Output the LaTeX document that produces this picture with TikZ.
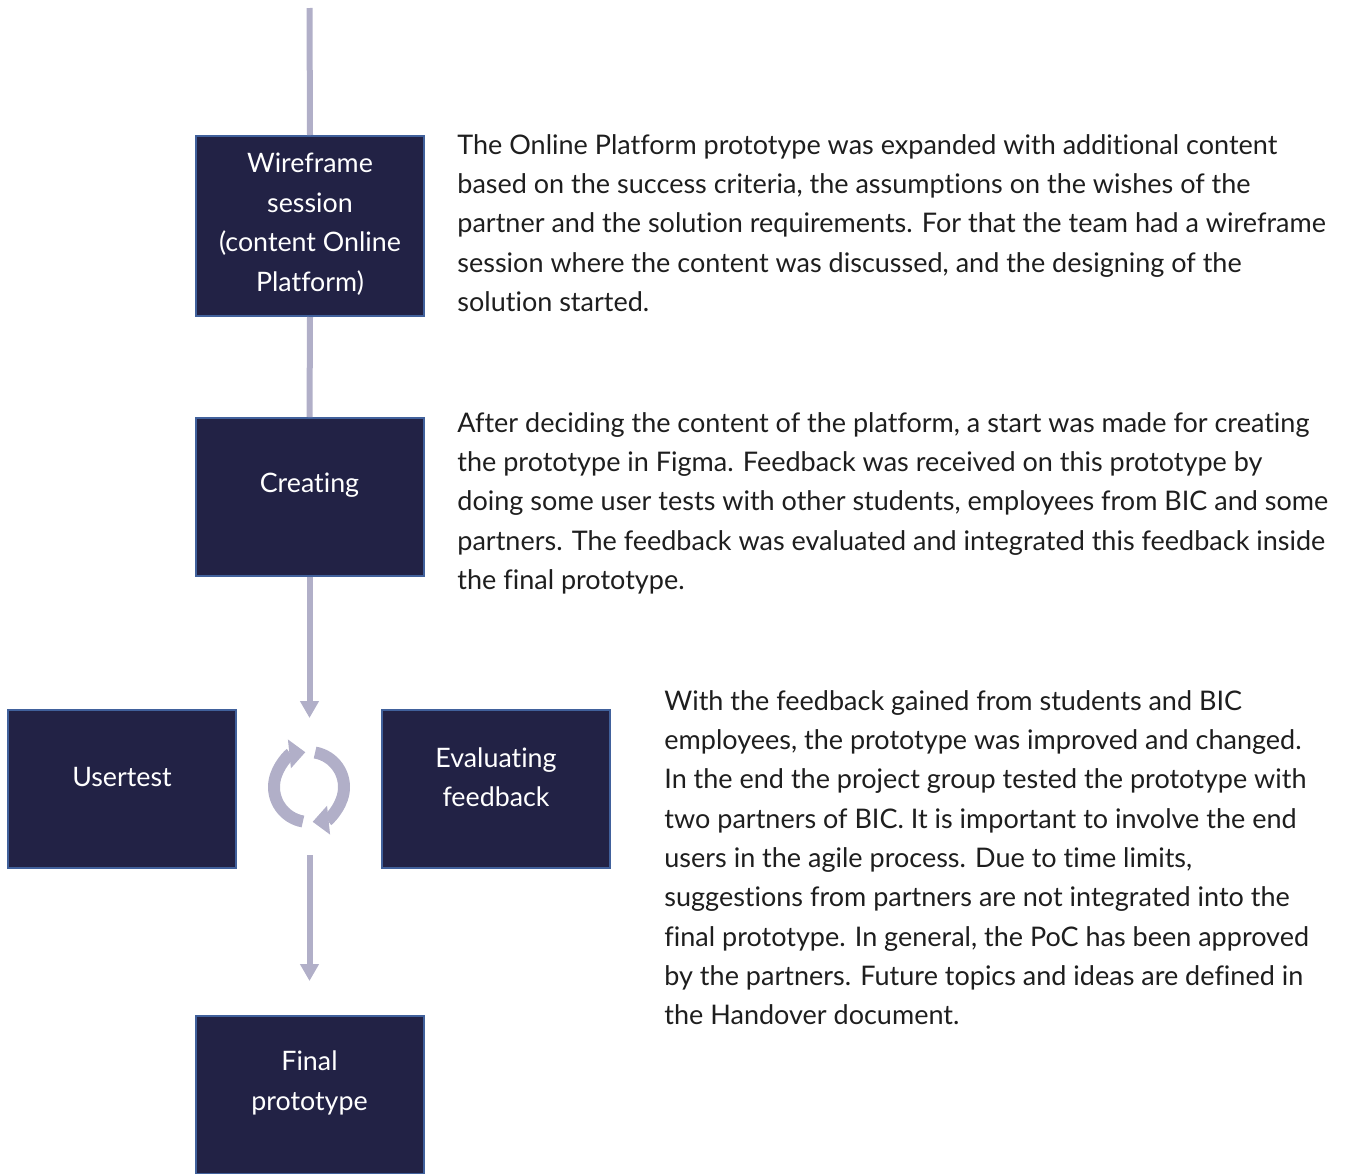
\documentclass[tikz,border=0pt]{standalone}
\usepackage{fontspec}
\setmainfont{Lato}[Ligatures={NoCommon,NoRare,NoContextual}]
\usetikzlibrary{shapes,arrows.meta}

\definecolor{boxfill}{HTML}{222245}
\definecolor{boxline}{HTML}{41619C}
\definecolor{flowgray}{HTML}{B1AFC8}
\definecolor{bodytext}{HTML}{1E1E1E}

\tikzset{
  stepbox/.style={draw=boxline, fill=boxfill, line width=1pt, minimum width=114pt, minimum height=79pt, inner sep=0pt},
  boxtext/.style={text=white, align=center, font=\fontsize{13.4}{19.75}\selectfont, inner sep=0pt},
  para/.style={text=bodytext, align=left, anchor=north west, inner sep=0pt, font=\fontsize{13.5}{19.65}\selectfont},
  flow/.style={draw=flowgray, line width=3pt},
  flowarrow/.style={flow, -{Triangle[width=9pt,length=8.5pt]}},
  cyc/.style={draw=flowgray, line width=6pt, -{Triangle[width=14pt,length=8pt]}}
}

\begin{document}
\begin{tikzpicture}[x=0.5pt, y=-0.5pt]
\useasboundingbox (0,0) rectangle (1348,1173);

% boxes
\node[stepbox, minimum height=90pt] (wire) at (310,226) {};
\node[stepbox] (create) at (309.5,497) {};
\node[stepbox] (user) at (122,789) {};
\node[stepbox] (eval) at (496,789) {};
\node[stepbox] (final) at (309.5,1095) {};

\node[boxtext] (wiretxt) at ([yshift=1pt]wire.center) {Wireframe\\session\\(content Online\\Platform)};
\node[boxtext] (createtxt) at ([yshift=6pt]create.center) {Creating};
\node[boxtext] (usertxt) at ([yshift=6pt]user.center) {Usertest};
\node[boxtext] (evaltxt) at ([yshift=6pt]eval.center) {Evaluating\\feedback};
\node[boxtext] (finaltxt) at ([yshift=6pt]final.center) {Final\\prototype};

% flow line
\coordinate (start) at (309.5,8);
\coordinate (cycin) at (309.5,718);
\coordinate (cycout) at (309.5,855);
\coordinate (finalin) at (309.5,981);
\draw[flow] (start) -- (wire.north);
\draw[flow] (wire.south) -- (create.north);
\draw[flowarrow] (create.south) -- (cycin);
\draw[flowarrow] (cycout) -- (finalin);

% cycle icon
\coordinate (cyc) at (309,787);
\draw[cyc] (cyc) ++(100:35) arc[start angle=100, end angle=264, radius=35];
\draw[cyc] (cyc) ++(280:35) arc[start angle=280, end angle=444, radius=35];

% descriptions
\node[para] (desc1) at (457,134) {The Online Platform prototype was expanded with additional content\\
based on the success criteria, the assumptions on the wishes of the\\
partner and the solution requirements. For that the team had a wireframe\\
session where the content was discussed, and the designing of the\\
solution started.};
\node[para] (desc2) at (457,412) {After deciding the content of the platform, a start was made for creating\\
the prototype in Figma. Feedback was received on this prototype by\\
doing some user tests with other students, employees from BIC and some\\
partners. The feedback was evaluated and integrated this feedback inside\\
the final prototype.};
\node[para] (desc3) at (664,690) {With the feedback gained from students and BIC\\
employees, the prototype was improved and changed.\\
In the end the project group tested the prototype with\\
two partners of BIC. It is important to involve the end\\
users in the agile process. Due to time limits,\\
suggestions from partners are not integrated into the\\
final prototype. In general, the PoC has been approved\\
by the partners. Future topics and ideas are defined in\\
the Handover document.};
\end{tikzpicture}
\end{document}
